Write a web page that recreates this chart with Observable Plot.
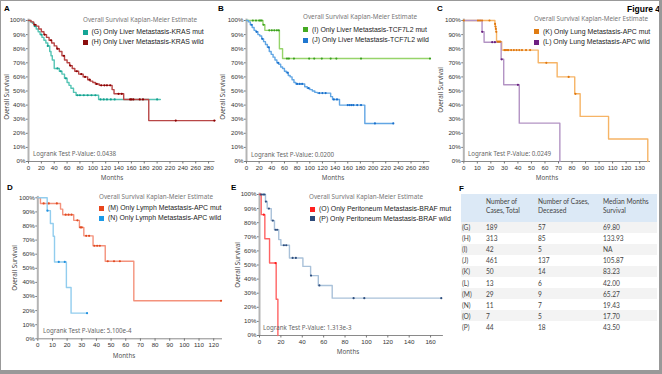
<!DOCTYPE html>
<html><head><meta charset="utf-8">
<script src="https://cdn.jsdelivr.net/npm/d3@7"></script>
<script src="https://cdn.jsdelivr.net/npm/@observablehq/plot@0.6"></script>
<style>
body{margin:0;background:#fff}
#fig{position:relative;width:662px;height:374px;background:#fff;overflow:hidden}
#fig svg{position:absolute;overflow:visible}
.t{position:absolute;white-space:nowrap;line-height:1}
</style></head><body>
<div id="fig"></div>
<script>
// ---------- DATA ----------
const yTicks = [0,0.1,0.2,0.3,0.4,0.5,0.6,0.7,0.8,0.9,1];
const ticksA = [0,20,40,60,80,100,120,140,160,180,200,220,240,260,280];
const ticksB = [0,20,40,60,80,100,120,140,160,180,200,220,240,260,280];
const ticksC = [0,10,20,30,40,50,60,70,80,90,100,110,120,130];
const ticksD = [0,10,20,30,40,50,60,70,80,90,100,110,120];
const ticksE = [0,20,40,60,80,100,120,140,160];

// (G) Liver KRAS mut
const gT = [0,3,6,9,12,15,18,21,24,27,30,33,35,37,40,48,52,56,60,63,66,70,74,109,205];
const gS = [1,.99,.98,.96,.94,.92,.90,.88,.86,.84,.82,.78,.75,.72,.66,.64,.62,.59,.56,.54,.52,.49,.47,.44,.44];
const gC = [10,20,30,45,50,58,76,80,86,92,98,104,112,117,122,128,134,200];
// (H) Liver KRAS wild
const hT = [0,4,8,12,16,20,24,28,32,36,40,44,48,52,56,60,64,68,72,78,85,92,96,100,104,110,130,133,148,187,290];
const hS = [1,.99,.97,.96,.94,.92,.90,.88,.86,.84,.82,.80,.78,.75,.72,.70,.68,.66,.64,.62,.60,.58,.57,.56,.55,.54,.51,.48,.44,.29,.29];
const hC = [10,25,35,45,55,65,75,82,88,95,106,113,118,122,127,140,145,158,160,163,173,178,229,289];
// (I) Liver TCF7L2 mut
const iT = [0,26,29,52,57,290];
const iS = [1,.97,.93,.80,.73,.73];
const iC = [10,15,20,22,24,27,36,40,44,48,51,64,67,75,99,107,119,133,142,181,290];
// (J) Liver TCF7L2 wild
const jT = [0,3,6,9,12,15,18,21,24,27,30,33,36,39,42,45,48,51,54,57,60,63,66,69,72,75,78,92,96,100,104,108,112,133,136,147,187,232];
const jS = [1,.99,.97,.95,.93,.92,.90,.89,.87,.85,.83,.81,.78,.76,.74,.72,.70,.69,.67,.66,.64,.63,.61,.60,.58,.56,.55,.53,.52,.51,.50,.49,.485,.46,.44,.40,.27,.27];
const jC = [8,16,25,35,50,65,80,84,88,98,115,120,125,138,143,160,163,166,169,175,181,203,232];
// (K) Lung APC mut
const kT = [0,23,23.3,23.6,23.9,24.2,28,55,69,82,86,107,136];
const kS = [1,.976,.957,.94,.92,.85,.79,.70,.60,.48,.32,.16,0];
const kC = [0,10.5,12,13.5,19,23.1,23.4,23.7,24,25,26,27,30,31,32,33,35,37,39,41,43,46,49,61,77.5,82.5];
// (L) Lung APC wild
const lT = [0,13.5,15,27.6,29.5,41,71];
const lS = [1,.92,.846,.725,.544,.272,0];
const lC = [13.6,21,23,28,40];
// (M) Lymph APC mut
const mT = [0,1.8,15.5,17,24.5,28.4,31.4,37.7,46,65.5,125];
const mS = [1,.96,.92,.88,.84,.79,.73,.66,.55,.27,.27];
const mC = [4,7.5,13,19,21,23,27,29,30,33,35,38.6,40.5,42.3,47.7,52,56,125];
// (N) Lymph APC wild
const nT = [0,6.4,8.6,10.5,11.4,19.5,22.7,33.6];
const nS = [1,.909,.818,.727,.545,.364,.182,.182];
const nC = [6.6,14.3,18.4,33.6];
// (O) Peritoneum BRAF mut
const oT = [0,1.6,5,9.4,15.6,17.2];
const oS = [1,.857,.686,.514,.257,0];
const oC = [0.8,4,15];
// (P) Peritoneum BRAF wild
const pT = [0,5.6,7.2,11,14,18,20,28,40.6,47.8,55,68,170];
const pS = [1,.95,.90,.815,.75,.68,.64,.55,.49,.425,.355,.265,.265];
const pC = [1.6,3.4,4.7,6,8.8,12.5,15,16.5,22.8,25,31,34,48.2,56,88,98,170];

// Table F
const tblLabels = ["(G)","(H)","(I)","(J)","(K)","(L)","(M)","(N)","(O)","(P)"];
const tblTotal = ["189","313","42","461","50","13","29","11","7","44"];
const tblDeceased = ["57","85","5","137","14","6","9","7","5","18"];
const tblMedian = ["69.80","133.93","NA","105.87","83.23","42.00","65.27","19.43","17.70","43.50"];
const tblHeaders = [["Number of","Cases, Total"],["Number of Cases,","Deceased"],["Median Months","Survival"]];

// ---------- HELPERS ----------
const fig = document.getElementById("fig");
function txt(x, y, s, o = {}) {
  const d = document.createElement("div");
  d.className = "t";
  d.textContent = s;
  d.style.left = x + "px"; d.style.top = y + "px";
  d.style.fontFamily = o.font || "'Liberation Sans', Arial, sans-serif";
  d.style.fontSize = (o.size || 6.5) + "px";
  d.style.color = o.color || "#222";
  if (o.bold) d.style.fontWeight = "bold";
  d.style.transform = o.transform || "translateY(-50%)";
  fig.appendChild(d);
  return d;
}
function box(x, y, w, h, bg) {
  const d = document.createElement("div");
  d.style.cssText = `position:absolute;left:${x}px;top:${y}px;width:${w}px;height:${h}px;background:${bg}`;
  fig.appendChild(d);
}
const steps = (T, S) => T.map((t, i) => ({t, s: S[i]}));
function survAt(T, S, t) { let v = S[0]; for (let i = 0; i < T.length; i++) if (T[i] <= t) v = S[i]; return v; }
const cens = (T, S, C) => C.map(t => ({t, s: survAt(T, S, t)}));
const serif = "'Noto Sans', 'Open Sans', sans-serif";

function panel(cfg) {
  const marks = [
    Plot.ruleY([0], {stroke: "#8a8a8a", strokeWidth: 1}),
    Plot.axisX({ticks: cfg.ticks, tickFormat: d => String(d), tickSize: 2.5, tickPadding: 1.5, fontSize: 6.2, stroke: "#777", color: "#333", label: null}),
    Plot.axisY({ticks: yTicks, tickFormat: d3.format(".0%"), tickSize: 2, tickPadding: 1, fontSize: 6.2, stroke: "#777", color: "#333", label: null}),
    Plot.ruleX([0], {y1: 0, y2: 1.01, stroke: "#b4b4b4", strokeWidth: 2})
  ];
  for (const s of cfg.series) {
    marks.push(Plot.line(steps(s.T, s.S), {x: "t", y: "s", curve: "step-after", stroke: s.line, strokeWidth: 1.4}));
  }
  for (const s of cfg.series) {
    marks.push(Plot.dot(cens(s.T, s.S, s.C), {x: "t", y: "s", r: 1.1, fill: s.dot, stroke: "none"}));
  }
  const svg = Plot.plot({
    width: cfg.w, height: cfg.h,
    marginLeft: cfg.mL, marginRight: cfg.mR, marginTop: cfg.mT, marginBottom: cfg.mB,
    style: {background: "transparent", fontFamily: "'Liberation Sans', Arial, sans-serif", overflow: "visible"},
    x: {domain: cfg.xd, label: null},
    y: {domain: [0, 1], label: null},
    marks
  });
  svg.style.left = cfg.left + "px"; svg.style.top = cfg.top + "px";
  fig.appendChild(svg);
  // annotations
  const a = cfg.ann;
  txt(a.letter[0], a.letter[1], a.letter[2], {bold: true, size: 8, color: "#000"});
  txt(a.title[0], a.title[1], "Overall Survival Kaplan-Meier Estimate", {font: serif, size: 6.3, color: "#777"});
  cfg.series.forEach((s, i) => {
    box(a.leg[0], a.leg[1 + i] - 2.5, 5, 5, s.legend);
    txt(a.leg[0] + 9, a.leg[1 + i], s.name, {size: 6.9, color: "#222"});
  });
  txt(a.lr[0], a.lr[1], "Logrank Test P-Value: " + a.lr[2], {font: serif, size: 6.2, color: "#666"});
  txt(a.os[0], a.os[1], "Overall Survival", {font: serif, size: 6.3, color: "#444", transform: "translate(-50%,-50%) rotate(-90deg)"});
  txt(a.mo[0], a.mo[1], "Months", {font: serif, size: 6.3, color: "#555", transform: "translate(-50%,-50%)"});
}

// ---------- PANELS ----------
panel({left: 0, top: 0, w: 220, h: 185, mL: 28, mR: 5.5, mT: 20, mB: 24, xd: [0, 290], ticks: ticksA,
  series: [
    {name: "(G) Only Liver Metastasis-KRAS mut", T: gT, S: gS, C: gC, line: "#55c4b4", dot: "#12a08f", legend: "#14a596"},
    {name: "(H) Only Liver Metastasis-KRAS wild", T: hT, S: hS, C: hC, line: "#b84646", dot: "#8b0000", legend: "#8b0d0d"}
  ],
  ann: {letter: [4, 9, "A"], title: [83, 20], leg: [82.5, 32, 42], lr: [33, 154, "0.0438"], os: [7, 97], mo: [112, 178]}
});
panel({left: 215, top: 0, w: 220, h: 185, mL: 31, mR: 5.5, mT: 20, mB: 24, xd: [0, 290], ticks: ticksB,
  series: [
    {name: "(I) Only Liver Metastasis-TCF7L2 mut", T: iT, S: iS, C: iC, line: "#96d46a", dot: "#3aa020", legend: "#44aa22"},
    {name: "(J) Only Liver Metastasis-TCF7L2 wild", T: jT, S: jS, C: jC, line: "#62a6e4", dot: "#1a70cc", legend: "#1f77d0"}
  ],
  ann: {letter: [218, 9, "B"], title: [303, 17], leg: [303, 29.5, 40], lr: [251, 155, "0.0200"], os: [223, 97], mo: [333, 178]}
});
panel({left: 430, top: 0, w: 230, h: 185, mL: 33.3, mR: 10, mT: 20, mB: 24, xd: [0, 138], ticks: ticksC,
  series: [
    {name: "(K) Only Lung Metastasis-APC mut", T: kT, S: kS, C: kC, line: "#f6b466", dot: "#e07810", legend: "#e07c12"},
    {name: "(L) Only Lung Metastasis-APC wild", T: lT, S: lS, C: lC, line: "#b394c4", dot: "#6a2080", legend: "#6e1f82"}
  ],
  ann: {letter: [437, 9, "C"], title: [534, 19], leg: [534, 31.7, 42.3], lr: [468, 154, "0.0249"], os: [441, 90], mo: [547, 178]}
});
panel({left: 0, top: 185, w: 230, h: 185, mL: 37.3, mR: 8, mT: 12.3, mB: 31.7, xd: [0, 126], ticks: ticksD,
  series: [
    {name: "(M) Only Lymph Metastasis-APC mut", T: mT, S: mS, C: mC, line: "#f4927c", dot: "#e04a20", legend: "#e8461c"},
    {name: "(N) Only Lymph Metastasis-APC wild", T: nT, S: nS, C: nC, line: "#92cdee", dot: "#2090e0", legend: "#1a9ae8"}
  ],
  ann: {letter: [7, 188, "D"], title: [99, 197], leg: [99, 208.3, 218.3], lr: [43, 331, "5.100e-4"], os: [15, 268], mo: [124, 356]}
});
panel({left: 215, top: 185, w: 232, h: 185, mL: 44, mR: 4.1, mT: 9, mB: 35, xd: [0, 172], ticks: ticksE,
  series: [
    {name: "(O) Only Peritoneum Metastasis-BRAF mut", T: oT, S: oS, C: oC, line: "#ff6464", dot: "#ff1a1a", legend: "#ff2020"},
    {name: "(P) Only Peritoneum Metastasis-BRAF wild", T: pT, S: pS, C: pC, line: "#a9c1d9", dot: "#2f4f7f", legend: "#2c4a7a"}
  ],
  ann: {letter: [231, 188, "E"], title: [309, 197], leg: [310, 209, 218.5], lr: [263, 328, "1.313e-3"], os: [238, 265], mo: [348, 352]}
});

// ---------- TABLE F ----------
const tf = "Lato, 'Noto Sans', sans-serif";
txt(459, 189, "F", {bold: true, size: 8, color: "#000"});
box(461, 194, 196, 28, "#dce9f6");
const colX = [486, 538, 603];
tblHeaders.forEach((h, c) => { txt(colX[c], 201, h[0], {font: tf, size: 6.6, color: "#444"}); txt(colX[c], 209.5, h[1], {font: tf, size: 6.6, color: "#444"}); });
tblLabels.forEach((lab, r) => {
  const cy = 227 + r * 11.1;
  if (r % 2 === 0) box(461, cy - 5.5, 196, 11, "#f3f3f3");
  txt(462, cy, lab, {font: tf, size: 6.6, color: "#444"});
  txt(colX[0], cy, tblTotal[r], {font: tf, size: 6.6, color: "#444"});
  txt(colX[1], cy, tblDeceased[r], {font: tf, size: 6.6, color: "#444"});
  txt(colX[2], cy, tblMedian[r], {font: tf, size: 6.6, color: "#444"});
});
txt(627, 9, "Figure 4", {bold: true, size: 8.5, color: "#000"});

// frame
const fr = document.createElement("div");
fr.style.cssText = "position:absolute;left:0;top:0;width:662px;height:374px;box-sizing:border-box;border-style:solid;border-color:#999;border-width:1px 3px 4px 1px;pointer-events:none";
fig.appendChild(fr);
</script>
</body></html>
